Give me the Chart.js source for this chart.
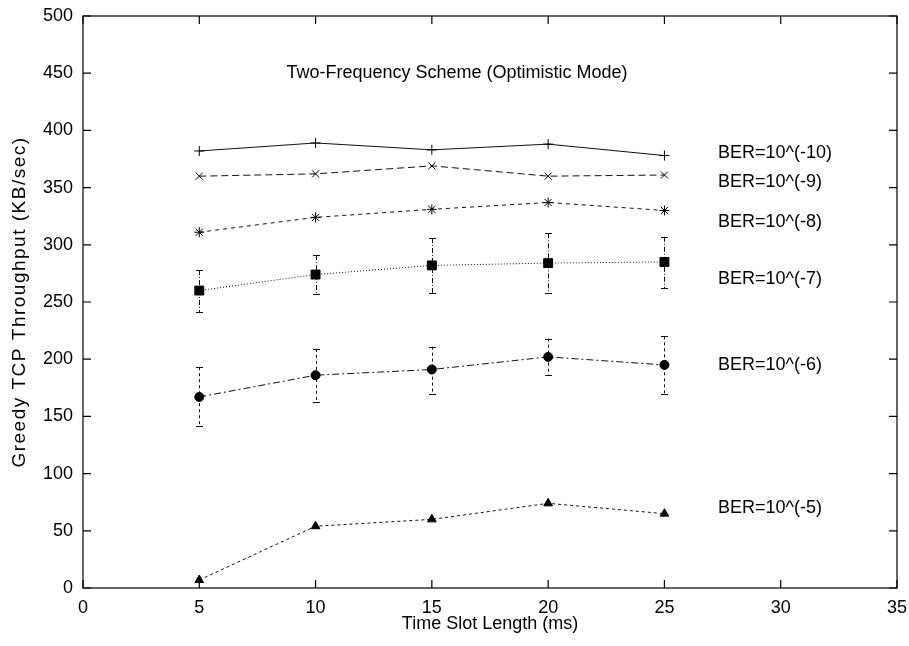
<!DOCTYPE html>
<html>
<head>
<meta charset="utf-8">
<script src="https://cdn.jsdelivr.net/npm/chart.js@4.4.1/dist/chart.umd.min.js"></script>
<style>
html, body { margin: 0; padding: 0; background: #fff; }
#wrap { width: 909px; height: 646px; }
</style>
</head>
<body>
<div id="wrap"><canvas id="chart"></canvas></div>
<script>
// values
const slotLength = [5, 10, 15, 20, 25];
const ber10 = [382, 389, 383, 388, 378];
const ber9 = [360, 362, 369, 360, 361];
const ber8 = [311, 324, 331, 337, 330];
const ber7 = [260, 274, 282, 284, 285];
const ber7Low = [241, 257, 258, 258, 262];
const ber7High = [278, 291, 306, 310, 307];
const ber6 = [167, 186, 191, 202, 195];
const ber6Low = [142, 163, 170, 186, 170];
const ber6High = [193, 209, 211, 218, 220];
const ber5 = [7, 54, 60, 74, 65];

const seriesNames = ['BER=10^(-10)', 'BER=10^(-9)', 'BER=10^(-8)', 'BER=10^(-7)', 'BER=10^(-6)', 'BER=10^(-5)'];
// where the series names sit, in data units
const nameX = 27.3;
const nameY = [380, 355, 320, 270, 195, 70];
const plotTitle = 'Two-Frequency Scheme (Optimistic Mode)';
const plotTitleX = 8.75;
const plotTitleY = 450;
const yTitle = 'Greedy TCP Throughput (KB/sec)';

const FONT = "'Liberation Sans', Arial, Helvetica, sans-serif";
const FONT_SIZE = 18;

function pts(ys) {
    return slotLength.map((x, i) => ({ x: x, y: ys[i] }));
}

function series(label, ys, dash, style, radius, filled) {
    return {
        label: label,
        data: pts(ys),
        borderColor: '#111',
        borderWidth: 1,
        borderDash: dash,
        pointStyle: style,
        pointRadius: radius,
        pointBorderColor: '#000',
        pointBorderWidth: 1,
        pointBackgroundColor: filled ? '#000' : 'rgba(0,0,0,0)',
        tension: 0,
        fill: false
    };
}

const errorBars = [
    { low: ber7Low, high: ber7High, dash: [5, 2, 1, 2] },
    { low: ber6Low, high: ber6High, dash: [3, 3] }
];

const gnuplotLook = {
    id: 'gnuplotLook',
    beforeDatasetsDraw(chart) {
        const ctx = chart.ctx;
        const xs = chart.scales.x, ys = chart.scales.y;
        ctx.save();
        ctx.strokeStyle = '#111';
        ctx.lineWidth = 1;
        errorBars.forEach(eb => {
            slotLength.forEach((v, i) => {
                const px = Math.round(xs.getPixelForValue(v)) + 0.5;
                const top = ys.getPixelForValue(eb.high[i]);
                const bot = ys.getPixelForValue(eb.low[i]);
                ctx.setLineDash(eb.dash);
                ctx.beginPath();
                ctx.moveTo(px, top);
                ctx.lineTo(px, bot);
                ctx.stroke();
                ctx.setLineDash([]);
                ctx.beginPath();
                ctx.moveTo(px - 3.5, Math.round(top) + 0.5);
                ctx.lineTo(px + 3.5, Math.round(top) + 0.5);
                ctx.moveTo(px - 3.5, Math.round(bot) + 0.5);
                ctx.lineTo(px + 3.5, Math.round(bot) + 0.5);
                ctx.stroke();
            });
        });
        ctx.restore();
    },
    afterDraw(chart) {
        const ctx = chart.ctx;
        const a = chart.chartArea;
        const xs = chart.scales.x, ys = chart.scales.y;
        ctx.save();
        ctx.strokeStyle = '#000';
        ctx.lineWidth = 1.2;
        ctx.setLineDash([]);
        ctx.strokeRect(a.left, a.top, a.right - a.left, a.bottom - a.top);

        // inward ticks on all four sides
        const len = 8;
        ctx.beginPath();
        xs.ticks.forEach(t => {
            const px = xs.getPixelForValue(t.value);
            ctx.moveTo(px, a.bottom); ctx.lineTo(px, a.bottom - len);
            ctx.moveTo(px, a.top); ctx.lineTo(px, a.top + len);
        });
        ys.ticks.forEach(t => {
            const py = ys.getPixelForValue(t.value);
            ctx.moveTo(a.left, py); ctx.lineTo(a.left + len, py);
            ctx.moveTo(a.right, py); ctx.lineTo(a.right - len, py);
        });
        ctx.stroke();

        // text inside the plot
        ctx.fillStyle = '#000';
        ctx.font = FONT_SIZE + 'px ' + FONT;
        ctx.textBaseline = 'middle';
        ctx.textAlign = 'left';
        ctx.fillText(plotTitle, xs.getPixelForValue(plotTitleX), ys.getPixelForValue(plotTitleY));
        seriesNames.forEach((name, i) => {
            ctx.fillText(name, xs.getPixelForValue(nameX), ys.getPixelForValue(nameY[i]));
        });

        // y axis title, a little wider spaced like the original
        ctx.translate(20, (a.top + a.bottom) / 2);
        ctx.rotate(-Math.PI / 2);
        ctx.font = '19px ' + FONT;
        ctx.letterSpacing = '1.5px';
        ctx.textAlign = 'center';
        ctx.fillText(yTitle, 0, 0);
        ctx.restore();
    }
};

const ctx = document.getElementById('chart').getContext('2d');
const myChart = new Chart(ctx, {
    type: 'line',
    data: {
        datasets: [
            series(seriesNames[0], ber10, [], 'cross', 5, false),
            series(seriesNames[1], ber9, [7, 4], 'crossRot', 5, false),
            series(seriesNames[2], ber8, [4, 4], 'star', 5, false),
            series(seriesNames[3], ber7, [1, 2], 'rect', 6.3, true),
            series(seriesNames[4], ber6, [7, 3, 2, 3], 'circle', 4.5, true),
            series(seriesNames[5], ber5, [3, 3], 'triangle', 5, true)
        ]
    },
    options: {
        responsive: true,
        maintainAspectRatio: false,
        animation: false,
        layout: { padding: { top: 16, right: 12, left: 0, bottom: 0 } },
        plugins: {
            legend: { display: false },
            tooltip: { enabled: false }
        },
        scales: {
            x: {
                type: 'linear',
                min: 0,
                max: 35,
                afterFit: s => { s.height = 58; s.paddingLeft = 0; s.paddingRight = 0; },
                ticks: { stepSize: 5, padding: 9, color: '#000', font: { family: FONT, size: FONT_SIZE } },
                grid: { display: false, drawTicks: false },
                border: { display: false },
                title: {
                    display: true,
                    text: 'Time Slot Length (ms)',
                    color: '#000',
                    font: { family: FONT, size: FONT_SIZE },
                    padding: { top: 0, bottom: 11 }
                }
            },
            y: {
                min: 0,
                max: 500,
                afterFit: s => { s.width = 83; s.paddingTop = 0; s.paddingBottom = 0; },
                ticks: { stepSize: 50, padding: 10, color: '#000', font: { family: FONT, size: FONT_SIZE } },
                grid: { display: false, drawTicks: false },
                border: { display: false },
                title: { display: false }
            }
        }
    },
    plugins: [gnuplotLook]
});
</script>
</body>
</html>
